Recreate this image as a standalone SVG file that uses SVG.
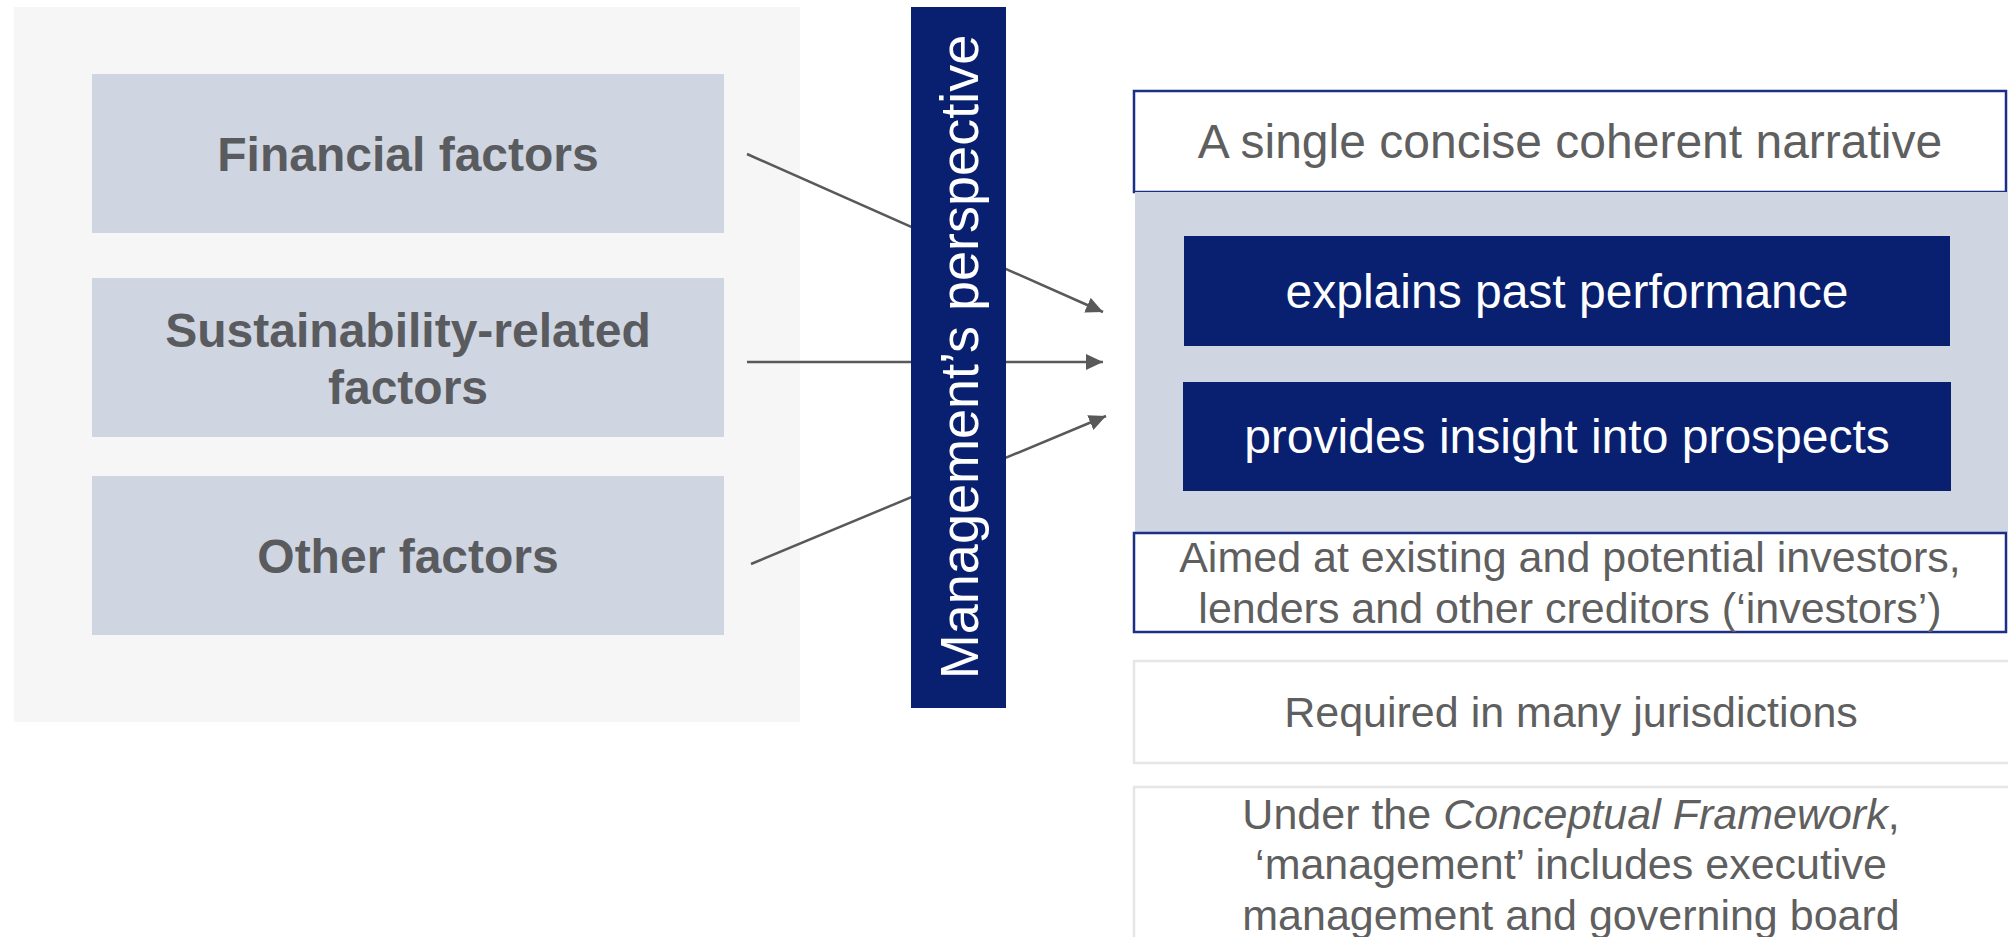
<svg xmlns="http://www.w3.org/2000/svg" width="2008" height="937" viewBox="0 0 2008 937">
<style>
.factor{fill:#cfd5e1}
.ftxt{font-family:"Liberation Sans",Arial,sans-serif;font-weight:bold;font-size:48px;fill:#595b5f;text-anchor:middle}
.txt{font-family:"Liberation Sans",Arial,sans-serif;font-size:48px;fill:#5f5f5f;text-anchor:middle}
.small{font-size:43px}
.wtxt{font-family:"Liberation Sans",Arial,sans-serif;font-size:48px;fill:#ffffff;text-anchor:middle}
.navy{fill:#08206f}
.bluebox{fill:#ffffff;stroke:#1b2f86;stroke-width:2.5}
.greybox{fill:#ffffff;stroke:#e6e6e6;stroke-width:2.5}
.conn{stroke:#595959;stroke-width:2.5;fill:none}
</style>
<defs>
<marker id="arr" markerUnits="userSpaceOnUse" markerWidth="18" markerHeight="16" refX="17" refY="8" orient="auto">
<path d="M0,0 L17,8 L0,16 Z" fill="#595959"/>
</marker>
</defs>
<rect id="panel" x="14" y="7" width="786" height="715" fill="#f6f6f6"/>
<g id="connectors">
<line class="conn" x1="747" y1="154" x2="1103" y2="312" marker-end="url(#arr)"/>
<line class="conn" x1="747" y1="362" x2="1103" y2="362" marker-end="url(#arr)"/>
<line class="conn" x1="751" y1="564" x2="1106" y2="416" marker-end="url(#arr)"/>
</g>
<g id="financial">
<rect class="factor" x="92" y="74" width="632" height="159"/>
<text class="ftxt" x="408" y="171">Financial factors</text>
</g>
<g id="sustainability">
<rect class="factor" x="92" y="278" width="632" height="159"/>
<text class="ftxt" x="408" y="347">Sustainability-related</text>
<text class="ftxt" x="408" y="404">factors</text>
</g>
<g id="other">
<rect class="factor" x="92" y="476" width="632" height="159"/>
<text class="ftxt" x="408" y="573">Other factors</text>
</g>
<g id="management">
<rect class="navy" x="911" y="7" width="95" height="701"/>
<text class="wtxt" style="font-size:54px" transform="translate(978,357) rotate(-90)" x="0" y="0">Management’s perspective</text>
</g>
<g id="narrative">
<rect class="bluebox" x="1134" y="91" width="872" height="101"/>
<text class="txt" x="1570" y="158">A single concise coherent narrative</text>
</g>
<g id="content-panel">
<rect class="factor" x="1135" y="192" width="873" height="340"/>
</g>
<g id="past">
<rect class="navy" x="1184" y="236" width="766" height="110"/>
<text class="wtxt" x="1567" y="308">explains past performance</text>
</g>
<g id="prospects">
<rect class="navy" x="1183" y="382" width="768" height="109"/>
<text class="wtxt" x="1567" y="453">provides insight into prospects</text>
</g>
<g id="aimed">
<rect class="bluebox" x="1134" y="533" width="872" height="99"/>
<text class="txt small" x="1570" y="572">Aimed at existing and potential investors,</text>
<text class="txt small" x="1570" y="623">lenders and other creditors (‘investors’)</text>
</g>
<g id="required">
<rect class="greybox" x="1134" y="661" width="880" height="102"/>
<text class="txt small" x="1571" y="727">Required in many jurisdictions</text>
</g>
<g id="conceptual">
<rect class="greybox" x="1134" y="787" width="880" height="160"/>
<text class="txt small" x="1571" y="829">Under the <tspan font-style="italic">Conceptual Framework</tspan>,</text>
<text class="txt small" x="1571" y="879">‘management’ includes executive</text>
<text class="txt small" x="1571" y="930">management and governing board</text>
</g>
</svg>
